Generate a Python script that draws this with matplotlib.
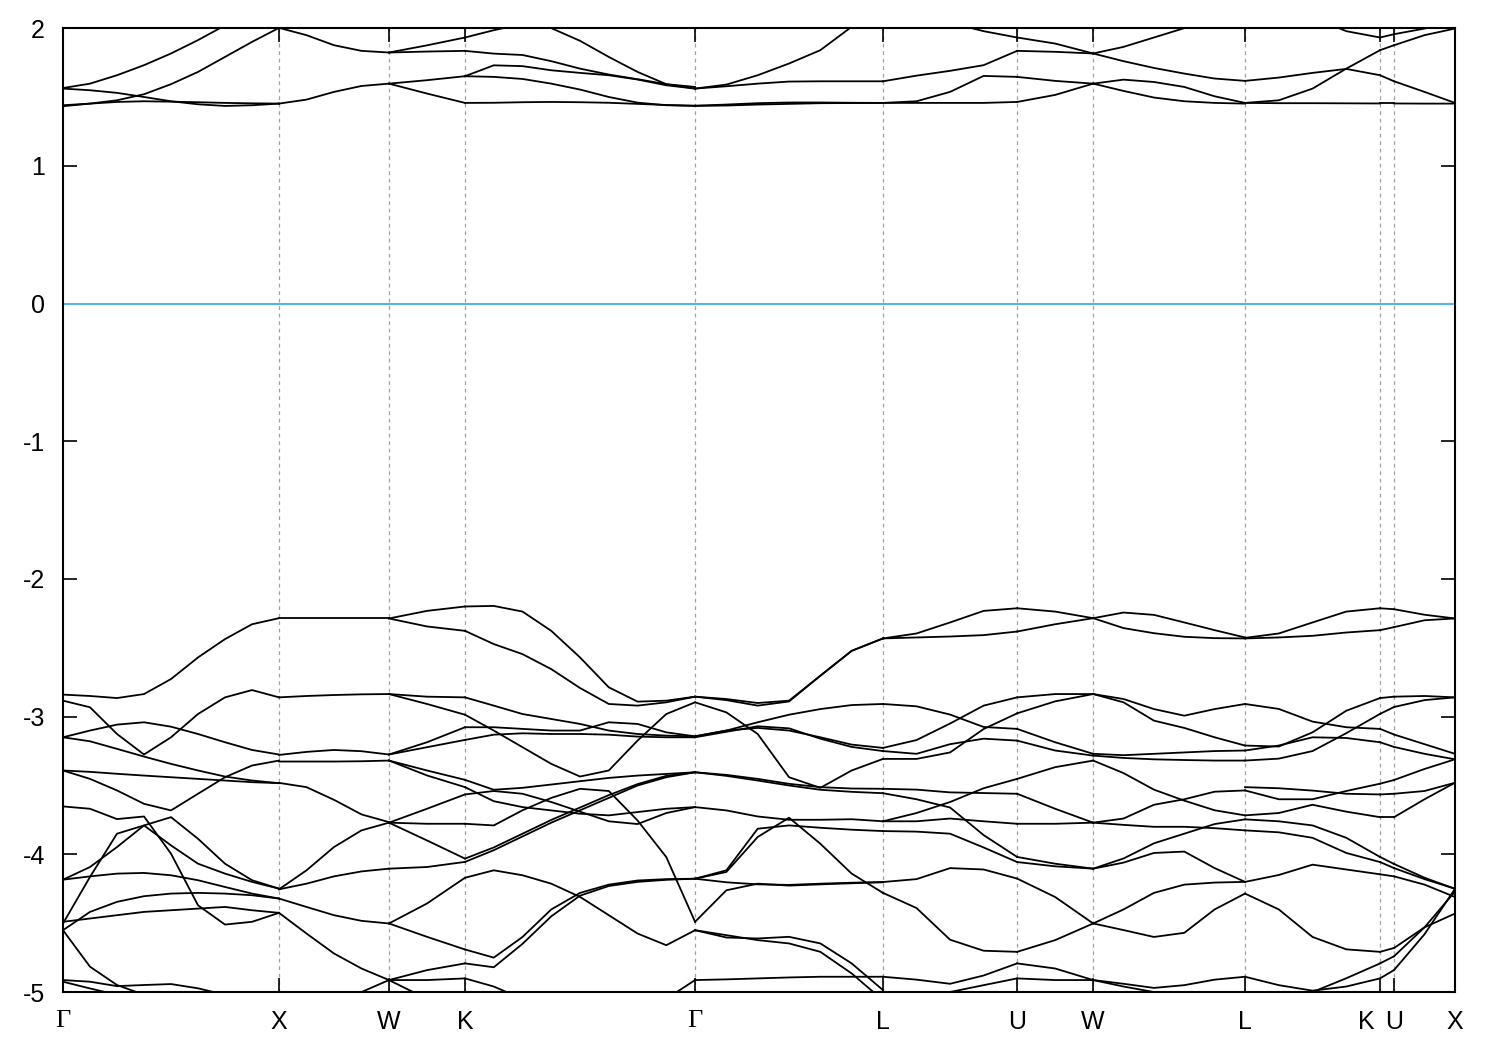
import numpy as np
import matplotlib
matplotlib.use("Agg")
import matplotlib.pyplot as plt

# high-symmetry points along the path (k distance) and their labels
kpts = [0.0, 1.0, 1.509, 1.861, 2.926, 3.796, 4.417, 4.769, 5.472, 6.097, 6.162, 6.444]
klabels = ['Γ', 'X', 'W', 'K', 'Γ', 'L', 'U', 'W', 'L', 'K', 'U', 'X']
yticks = [-5, -4, -3, -2, -1, 0, 1, 2]

# energies (eV) sampled evenly along each segment, one list per band line
gx_val = [
    [-2.84, -2.85, -2.865, -2.836, -2.727, -2.570, -2.437, -2.329, -2.285],
    [-2.884, -2.932, -3.126, -3.275, -3.150, -2.981, -2.860, -2.807, -2.860],
    [-3.150, -3.101, -3.058, -3.041, -3.073, -3.126, -3.186, -3.242, -3.275],
    [-3.150, -3.179, -3.234, -3.290, -3.343, -3.391, -3.435, -3.464, -3.483],
    [-3.391, -3.401, -3.415, -3.428, -3.440, -3.452, -3.464, -3.476, -3.483],
    [-3.391, -3.452, -3.536, -3.633, -3.681, -3.560, -3.440, -3.355, -3.319],
    [-3.652, -3.669, -3.744, -3.725, -3.995, -4.370, -4.510, -4.490, -4.425],
    [-4.502, -4.164, -3.850, -3.790, -3.935, -4.068, -4.140, -4.200, -4.249],
    [-4.184, -4.092, -3.947, -3.790, -3.730, -3.887, -4.068, -4.188, -4.249],
    [-4.184, -4.160, -4.140, -4.135, -4.152, -4.188, -4.237, -4.285, -4.321],
    [-4.551, -4.418, -4.345, -4.304, -4.285, -4.280, -4.285, -4.297, -4.321],
    [-4.490, -4.466, -4.442, -4.418, -4.406, -4.394, -4.382, -4.406, -4.425],
    [-4.913, -4.925, -4.957, -4.949, -4.942, -4.973, -5.02, -5.1, -5.2],
    [-4.551, -4.816, -4.949, -5.02, -5.1, -5.2, -5.3, -5.4, -5.5],
    [-4.925, -4.974, -5.02, -5.1, -5.2, -5.3, -5.4, -5.5, -5.6],
]
gx_con = [
    [1.565, 1.597, 1.658, 1.731, 1.816, 1.913, 2.02, 2.12, 2.22],
    [1.561, 1.549, 1.530, 1.500, 1.469, 1.447, 1.435, 1.440, 1.452],
    [1.440, 1.452, 1.476, 1.520, 1.593, 1.682, 1.791, 1.900, 2.002],
    [1.433, 1.452, 1.464, 1.469, 1.466, 1.462, 1.457, 1.454, 1.452],
]

xw_val = [
    [-2.287, -2.287, -2.287, -2.287, -2.287],
    [-2.860, -2.850, -2.843, -2.838, -2.836],
    [-3.278, -3.256, -3.242, -3.251, -3.275],
    [-3.326, -3.326, -3.326, -3.324, -3.319],
    [-3.481, -3.512, -3.604, -3.710, -3.766],
    [-4.254, -4.116, -3.947, -3.826, -3.770],
    [-4.254, -4.213, -4.160, -4.124, -4.104],
    [-4.321, -4.382, -4.442, -4.483, -4.502],
    [-4.425, -4.575, -4.720, -4.829, -4.913],
    [-5.3, -5.2, -5.1, -5.0, -4.913],
]
xw_con = [
    [1.452, 1.481, 1.537, 1.580, 1.597],
    [2.002, 1.949, 1.876, 1.835, 1.823],
]

wk_val = [
    [-2.287, -2.232, -2.200],
    [-2.287, -2.345, -2.377],
    [-2.836, -2.855, -2.860],
    [-2.836, -2.908, -2.986],
    [-3.275, -3.186, -3.077],
    [-3.275, -3.222, -3.169],
    [-3.319, -3.391, -3.459],
    [-3.319, -3.427, -3.512],
    [-3.770, -3.669, -3.565],
    [-3.770, -3.778, -3.778],
    [-3.770, -3.899, -4.031],
    [-4.104, -4.092, -4.055],
    [-4.502, -4.357, -4.170],
    [-4.502, -4.599, -4.691],
    [-4.913, -4.841, -4.792],
    [-4.913, -4.913, -4.901],
    [-4.913, -5.05, -5.2],
]
wk_con = [
    [1.823, 1.875, 1.932],
    [1.823, 1.830, 1.835],
    [1.597, 1.622, 1.651],
    [1.597, 1.525, 1.457],
]

kg_val = [
    [-2.200, -2.196, -2.237, -2.377, -2.570, -2.787, -2.891, -2.884, -2.855],
    [-2.377, -2.473, -2.546, -2.655, -2.792, -2.908, -2.920, -2.896, -2.855],
    [-2.860, -2.920, -2.981, -3.017, -3.053, -3.101, -3.126, -3.138, -3.143],
    [-2.986, -3.101, -3.222, -3.343, -3.435, -3.391, -3.174, -2.981, -2.896],
    [-3.077, -3.077, -3.089, -3.101, -3.101, -3.041, -3.053, -3.114, -3.143],
    [-3.169, -3.131, -3.121, -3.126, -3.126, -3.131, -3.145, -3.150, -3.150],
    [-3.459, -3.531, -3.517, -3.493, -3.469, -3.445, -3.428, -3.416, -3.404],
    [-3.512, -3.614, -3.657, -3.681, -3.705, -3.717, -3.693, -3.669, -3.657],
    [-3.565, -3.540, -3.560, -3.620, -3.690, -3.760, -3.780, -3.700, -3.657],
    [-3.778, -3.790, -3.680, -3.590, -3.524, -3.540, -3.754, -4.020, -4.490],
    [-4.031, -3.950, -3.850, -3.750, -3.660, -3.570, -3.490, -3.430, -3.404],
    [-4.055, -3.970, -3.870, -3.770, -3.680, -3.590, -3.500, -3.440, -3.404],
    [-4.170, -4.116, -4.152, -4.213, -4.309, -4.442, -4.575, -4.660, -4.551],
    [-4.691, -4.750, -4.600, -4.400, -4.280, -4.220, -4.190, -4.180, -4.177],
    [-4.792, -4.820, -4.650, -4.450, -4.300, -4.230, -4.200, -4.185, -4.177],
    [-4.901, -4.960, -5.050, -5.200, -5.300, -5.300, -5.200, -5.050, -4.913],
]
kg_con = [
    [1.932, 1.985, 2.03, 2.00, 1.908, 1.791, 1.682, 1.593, 1.561],
    [1.835, 1.815, 1.805, 1.760, 1.706, 1.663, 1.629, 1.593, 1.573],
    [1.651, 1.730, 1.724, 1.694, 1.675, 1.658, 1.627, 1.585, 1.561],
    [1.651, 1.646, 1.631, 1.597, 1.554, 1.500, 1.459, 1.440, 1.435],
    [1.457, 1.458, 1.462, 1.464, 1.462, 1.458, 1.450, 1.442, 1.437],
]

gl_val = [
    [-2.855, -2.872, -2.901, -2.884, -2.703, -2.522, -2.432],
    [-2.855, -2.880, -2.920, -2.890, -2.703, -2.522, -2.432],
    [-2.896, -2.969, -3.126, -3.440, -3.517, -3.391, -3.307],
    [-3.143, -3.101, -3.041, -2.986, -2.945, -2.916, -2.908],
    [-3.143, -3.101, -3.082, -3.101, -3.150, -3.203, -3.227],
    [-3.150, -3.110, -3.070, -3.085, -3.160, -3.220, -3.250],
    [-3.404, -3.423, -3.452, -3.488, -3.512, -3.522, -3.524],
    [-3.404, -3.430, -3.464, -3.500, -3.531, -3.546, -3.556],
    [-3.657, -3.681, -3.725, -3.749, -3.749, -3.745, -3.760],
    [-4.177, -4.128, -3.874, -3.734, -3.923, -4.140, -4.280],
    [-4.177, -4.116, -3.814, -3.790, -3.807, -3.821, -3.831],
    [-4.177, -4.203, -4.218, -4.222, -4.213, -4.206, -4.201],
    [-4.490, -4.261, -4.213, -4.227, -4.218, -4.210, -4.203],
    [-4.551, -4.604, -4.611, -4.599, -4.647, -4.792, -4.986],
    [-4.551, -4.587, -4.623, -4.647, -4.708, -4.865, -5.06],
    [-4.913, -4.908, -4.901, -4.894, -4.889, -4.889, -4.889],
]
gl_con = [
    [1.561, 1.590, 1.658, 1.743, 1.840, 2.01, 2.2],
    [1.561, 1.578, 1.597, 1.612, 1.614, 1.614, 1.614],
    [1.435, 1.438, 1.445, 1.450, 1.455, 1.456, 1.457],
    [1.437, 1.445, 1.455, 1.460, 1.460, 1.458, 1.457],
]

lu_val = [
    [-2.432, -2.396, -2.316, -2.232, -2.213],
    [-2.432, -2.425, -2.418, -2.408, -2.382],
    [-2.908, -2.925, -2.985, -3.075, -3.089],
    [-3.227, -3.170, -3.050, -2.920, -2.860],
    [-3.250, -3.270, -3.200, -3.160, -3.174],
    [-3.307, -3.307, -3.260, -3.090, -2.976],
    [-3.524, -3.530, -3.550, -3.555, -3.560],
    [-3.556, -3.600, -3.660, -3.860, -4.019],
    [-3.760, -3.700, -3.620, -3.520, -3.452],
    [-3.760, -3.760, -3.740, -3.760, -3.778],
    [-3.831, -3.835, -3.850, -3.950, -4.056],
    [-4.201, -4.180, -4.100, -4.110, -4.176],
    [-4.280, -4.390, -4.620, -4.700, -4.708],
    [-4.889, -4.910, -4.940, -4.880, -4.792],
    [-5.100, -5.050, -5.000, -4.950, -4.901],
]
lu_con = [
    [1.614, 1.655, 1.690, 1.731, 1.835],
    [1.457, 1.469, 1.537, 1.653, 1.646],
    [1.457, 1.457, 1.457, 1.457, 1.464],
    [2.2, 2.12, 2.04, 1.978, 1.932],
]

uw_val = [
    [-2.213, -2.237, -2.285],
    [-2.382, -2.329, -2.285],
    [-2.860, -2.836, -2.836],
    [-2.976, -2.889, -2.836],
    [-3.089, -3.186, -3.270],
    [-3.174, -3.246, -3.283],
    [-3.452, -3.367, -3.319],
    [-3.560, -3.669, -3.770],
    [-3.778, -3.778, -3.770],
    [-4.019, -4.068, -4.104],
    [-4.056, -4.087, -4.104],
    [-4.176, -4.310, -4.502],
    [-4.708, -4.623, -4.502],
    [-4.792, -4.829, -4.913],
    [-4.901, -4.913, -4.913],
]
uw_con = [
    [1.835, 1.828, 1.816],
    [1.932, 1.888, 1.816],
    [1.646, 1.617, 1.597],
    [1.464, 1.515, 1.597],
]

wl_val = [
    [-2.285, -2.244, -2.261, -2.316, -2.372, -2.425],
    [-2.285, -2.357, -2.394, -2.420, -2.430, -2.432],
    [-2.836, -2.872, -2.945, -2.993, -2.945, -2.908],
    [-2.836, -2.896, -3.029, -3.082, -3.150, -3.210],
    [-3.270, -3.280, -3.270, -3.260, -3.250, -3.246],
    [-3.283, -3.300, -3.310, -3.315, -3.319, -3.319],
    [-3.319, -3.410, -3.530, -3.610, -3.680, -3.717],
    [-3.770, -3.786, -3.800, -3.800, -3.810, -3.826],
    [-3.770, -3.740, -3.640, -3.600, -3.545, -3.536],
    [-4.104, -4.060, -3.990, -3.980, -4.100, -4.200],
    [-4.104, -4.030, -3.920, -3.850, -3.780, -3.746],
    [-4.502, -4.550, -4.600, -4.570, -4.400, -4.285],
    [-4.502, -4.400, -4.280, -4.220, -4.205, -4.200],
    [-4.913, -4.940, -4.970, -4.950, -4.910, -4.889],
    [-4.913, -4.960, -5.000, -5.050, -5.020, -5.100],
]
wl_con = [
    [1.816, 1.864, 1.932, 2.0, 2.1, 2.2],
    [1.816, 1.760, 1.711, 1.670, 1.634, 1.617],
    [1.597, 1.626, 1.609, 1.573, 1.505, 1.457],
    [1.597, 1.544, 1.496, 1.469, 1.457, 1.452],
]

lk_val = [
    [-2.428, -2.396, -2.316, -2.237, -2.213],
    [-2.432, -2.425, -2.413, -2.389, -2.372],
    [-2.908, -2.944, -3.036, -3.077, -3.089],
    [-3.210, -3.217, -3.114, -2.957, -2.865],
    [-3.246, -3.210, -3.150, -3.155, -3.186],
    [-3.319, -3.305, -3.250, -3.120, -2.980],
    [-3.512, -3.520, -3.537, -3.560, -3.565],
    [-3.536, -3.600, -3.600, -3.540, -3.487],
    [-3.717, -3.700, -3.640, -3.690, -3.730],
    [-3.746, -3.760, -3.790, -3.880, -4.019],
    [-3.826, -3.840, -3.880, -3.990, -4.056],
    [-4.200, -4.150, -4.075, -4.110, -4.145],
    [-4.285, -4.400, -4.600, -4.690, -4.708],
    [-4.889, -4.950, -4.990, -4.960, -4.901],
    [-5.100, -5.050, -5.000, -4.900, -4.792],
]
lk_con = [
    [1.617, 1.641, 1.675, 1.704, 1.658],
    [1.457, 1.476, 1.561, 1.706, 1.840],
    [1.457, 1.455, 1.455, 1.454, 1.453],
    [2.3, 2.2, 2.08, 1.978, 1.932],
]

ku_val = [
    [-2.213, -2.220], [-2.372, -2.350], [-3.089, -3.130], [-2.865, -2.855],
    [-3.186, -3.220], [-2.980, -2.930], [-3.565, -3.560], [-3.487, -3.460],
    [-3.730, -3.730], [-4.019, -4.070], [-4.056, -4.100], [-4.145, -4.160],
    [-4.708, -4.680], [-4.901, -4.840], [-4.792, -4.740],
]
ku_con = [[1.658, 1.614], [1.840, 1.876], [1.453, 1.453], [1.932, 1.956]]

ux_val = [
    [-2.220, -2.260, -2.287],
    [-2.350, -2.300, -2.287],
    [-3.130, -3.200, -3.270],
    [-2.855, -2.850, -2.860],
    [-3.220, -3.270, -3.310],
    [-2.930, -2.880, -2.860],
    [-3.560, -3.540, -3.480],
    [-3.460, -3.380, -3.310],
    [-3.730, -3.600, -3.480],
    [-4.070, -4.170, -4.250],
    [-4.100, -4.180, -4.250],
    [-4.160, -4.220, -4.310],
    [-4.680, -4.530, -4.430],
    [-4.840, -4.580, -4.250],
    [-4.740, -4.530, -4.270],
]
ux_con = [[1.614, 1.537, 1.457], [1.876, 1.949, 1.997], [1.453, 1.452, 1.452], [1.956, 1.997, 2.05]]

segments = [
    gx_val + gx_con, xw_val + xw_con, wk_val + wk_con, kg_val + kg_con,
    gl_val + gl_con, lu_val + lu_con, uw_val + uw_con, wl_val + wl_con,
    lk_val + lk_con, ku_val + ku_con, ux_val + ux_con,
]

plt.rcParams['font.family'] = ['Liberation Sans', 'DejaVu Sans']

fig = plt.figure(figsize=(15, 10.5), dpi=100)
ax = fig.add_axes([0.042, 0.0552, 0.928, 0.918])

# dashed separators at the inner symmetry points
for k in kpts[1:-1]:
    ax.axvline(k, color='#a0a0a0', lw=0.9, ls=(0, (3, 3)), zorder=1)

ax.axhline(0, color='#56b4e9', lw=1.5, zorder=2)

for i, bands in enumerate(segments):
    for band in bands:
        ks = np.linspace(kpts[i], kpts[i + 1], len(band))
        ax.plot(ks, band, color='black', lw=1.3, solid_joinstyle='round', zorder=3)

ax.set_xlim(kpts[0], kpts[-1])
ax.set_ylim(-5, 2)

ax.set_yticks(yticks)
ax.set_yticklabels([str(v) for v in yticks], fontsize=18)
ax.set_xticks(kpts)
# the K next to U is written by hand, shifted left so the two do not collide
ax.set_xticklabels([lab if i != 9 else '' for i, lab in enumerate(klabels)], fontsize=18)
for lab in ax.get_xticklabels():
    if lab.get_text() == 'Γ':
        lab.set_family(['Liberation Serif', 'DejaVu Serif'])
        lab.set_fontsize(19)
ax.annotate(klabels[9], xy=(kpts[9], 0), xycoords=('data', 'axes fraction'),
            xytext=(-4, -13), textcoords='offset points',
            ha='right', va='top', fontsize=18)

ax.tick_params(axis='both', direction='in', length=10, width=1.2,
               top=True, right=True, colors='black')
ax.tick_params(axis='y', pad=13)
ax.tick_params(axis='x', pad=13)
for s in ax.spines.values():
    s.set_linewidth(1.5)

fig.savefig('out.png', dpi=100)
